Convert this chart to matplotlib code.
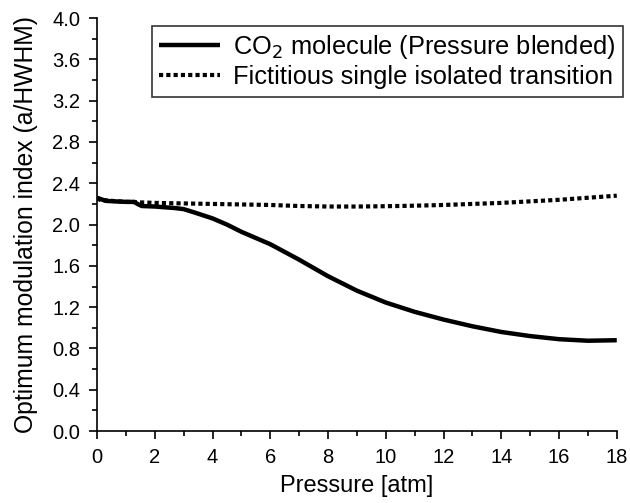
import matplotlib
matplotlib.use("Agg")
import matplotlib.pyplot as plt
from matplotlib.ticker import MultipleLocator

plt.rcParams['font.family'] = ['Liberation Sans', 'DejaVu Sans']

p_co2 = [0, 0.1, 0.3, 0.6, 1.0, 1.3, 1.4, 1.55, 2.0, 2.7, 3.0, 3.4, 4.0, 4.5, 5.0, 5.5, 6.0, 7.0,
         8.0, 9.0, 10.0, 11.0, 12.0, 13.0, 14.0, 15.0, 16.0, 17.0, 18.0]
m_co2 = [2.26, 2.25, 2.23, 2.225, 2.22, 2.22, 2.20, 2.18, 2.175, 2.16, 2.15, 2.115, 2.06, 2.00,
         1.93, 1.87, 1.81, 1.66, 1.50, 1.36, 1.245, 1.155, 1.08, 1.015, 0.96, 0.92, 0.89, 0.875, 0.88]

p_iso = [0, 0.1, 0.5, 1.0, 2.0, 3.0, 4.0, 5.0, 6.0, 7.0, 8.0, 9.0, 10.0, 11.0, 12.0, 13.0, 14.0,
         15.0, 16.0, 17.0, 18.0]
m_iso = [2.26, 2.24, 2.23, 2.22, 2.21, 2.205, 2.20, 2.195, 2.19, 2.18, 2.175, 2.175, 2.178, 2.183,
         2.19, 2.20, 2.21, 2.225, 2.24, 2.26, 2.28]

fig = plt.figure(figsize=(6.3, 5.03), dpi=100)
ax = fig.add_axes([0.154, 0.143, 0.825, 0.821])

ax.plot(p_co2, m_co2, color='black', lw=3.2, solid_capstyle='butt', solid_joinstyle='round',
        label=r'CO$_2$ molecule (Pressure blended)')
ax.plot(p_iso, m_iso, color='black', lw=3.0, linestyle=(0, (1.0, 0.75)), dash_capstyle='butt',
        label='Fictitious single isolated transition')

ax.set_xlim(0, 18)
ax.set_ylim(0, 4.0)
ax.xaxis.set_minor_locator(MultipleLocator(1))
ax.yaxis.set_minor_locator(MultipleLocator(0.2))
ax.set_xticks([0, 2, 4, 6, 8, 10, 12, 14, 16, 18])
ax.set_xticklabels(['0', '2', '4', '6', '8', '10', '12', '14', '16', '18'])
ax.set_yticks([0.0, 0.4, 0.8, 1.2, 1.6, 2.0, 2.4, 2.8, 3.2, 3.6, 4.0])
ax.set_yticklabels(['0.0', '0.4', '0.8', '1.2', '1.6', '2.0', '2.4', '2.8', '3.2', '3.6', '4.0'])

for s in ['top', 'right']:
    ax.spines[s].set_visible(False)
for s in ['left', 'bottom']:
    ax.spines[s].set_linewidth(1.2)
ax.tick_params(which='major', direction='out', length=6, width=1.2, labelsize=14.5, pad=6)
ax.tick_params(which='minor', direction='out', length=3.5, width=1.2)

ax.set_xlabel('Pressure [atm]', fontsize=17, labelpad=6)
ax.set_ylabel('Optimum modulation index (a/HWHM)', fontsize=17.8, labelpad=10)

leg = ax.legend(loc='upper right', bbox_to_anchor=(1.0115, 0.982), fontsize=18.3, frameon=True,
                fancybox=False, edgecolor='black', handlelength=2.4, borderaxespad=0,
                handletextpad=0.5, borderpad=0.3, labelspacing=0.15)
leg.get_frame().set_linewidth(1.2)

fig.savefig('out.png', dpi=100)
